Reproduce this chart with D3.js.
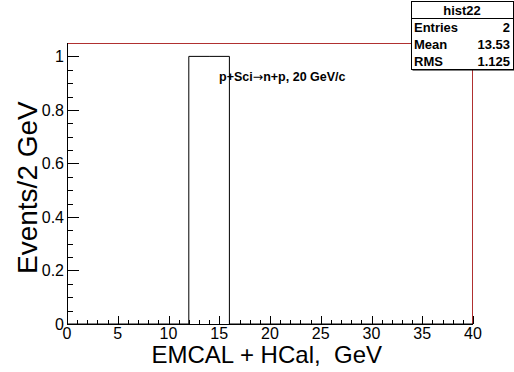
<!DOCTYPE html>
<html><head><meta charset="utf-8">
<script src="https://cdn.jsdelivr.net/npm/d3@7"></script>
<style>body{margin:0;background:#fff}svg{display:block}text{white-space:pre}</style>
</head><body>
<script>
const binEdges = [0,2,4,6,8,10,12,14,16,18,20,22,24,26,28,30,32,34,36,38,40];
const binCounts = [0,0,0,0,0,0,1,1,0,0,0,0,0,0,0,0,0,0,0,0];
const xTicks = [0,5,10,15,20,25,30,35,40];
const yTicks = [0,0.2,0.4,0.6,0.8,1];
const statsLabels = ["Entries","Mean","RMS"];
const statsValues = ["2","13.53","1.125"];
const histName = "hist22";

const W=514,H=372;
const L=67,R=473,T=43,B=324;
const svg=d3.select("body").append("svg").attr("width",W).attr("height",H);
const x=d3.scaleLinear().domain([0,40]).range([L,R]);
const y=d3.scaleLinear().domain([0,1.05]).range([B,T]);
const font="Liberation Sans, Arial, Helvetica, sans-serif";
const red="#b03030";

// frame (dark red)
svg.append("rect").attr("x",L+0.5).attr("y",T+0.5).attr("width",R-L-1).attr("height",B-T)
  .attr("fill","none").attr("stroke",red).attr("stroke-width",1);

// histogram outline
let pts=[];
binCounts.forEach((c,i)=>{pts.push([x(binEdges[i]),y(c)]);pts.push([x(binEdges[i+1]),y(c)]);});
svg.append("path").attr("d",d3.line()(pts)).attr("fill","none").attr("stroke","#000").attr("stroke-width",1);
svg.append("line").attr("x1",x(12)).attr("x2",x(16)).attr("y1",B+0.5).attr("y2",B+0.5).attr("stroke",red);

// x axis
const xa=svg.append("g").attr("transform",`translate(0,${B})`);
xa.append("line").attr("x1",L).attr("x2",R).attr("y1",0.5).attr("y2",0.5).attr("stroke","#000");
xa.selectAll(".mt").data(d3.range(0,41,1)).enter().append("line")
  .attr("x1",d=>Math.round(x(d))+0.5).attr("x2",d=>Math.round(x(d))+0.5)
  .attr("y1",0).attr("y2",d=>d%5===0?-8:-4).attr("stroke","#000");
xa.selectAll("text").data(xTicks).enter().append("text")
  .attr("x",d=>x(d)).attr("y",15).attr("text-anchor","middle")
  .attr("font-family",font).attr("font-size",16).text(d=>d);

// y axis
const ya=svg.append("g").attr("transform",`translate(${L},0)`);
ya.append("line").attr("x1",0.5).attr("x2",0.5).attr("y1",T).attr("y2",B).attr("stroke","#000");
ya.selectAll(".mt").data(d3.range(0,21,1).map(i=>i*0.05)).enter().append("line")
  .attr("y1",d=>Math.round(y(d))+0.5).attr("y2",d=>Math.round(y(d))+0.5)
  .attr("x1",0).attr("x2",(d,i)=>i%4===0?12:6).attr("stroke","#000");
ya.selectAll("text").data(yTicks).enter().append("text")
  .attr("x",-3).attr("y",d=>y(d)+6).attr("text-anchor","end")
  .attr("font-family",font).attr("font-size",16).text(d=>d);

// titles
svg.append("text").attr("x",382).attr("y",363).attr("text-anchor","end")
  .attr("font-family",font).attr("font-size",24).text("EMCAL + HCal,  GeV");
svg.append("text").attr("transform","translate(37,274) rotate(-90)").attr("text-anchor","start")
  .attr("font-family",font).attr("font-size",28).text("Events/2 GeV");

const lab=svg.append("text").attr("x",219).attr("y",81).attr("font-family",font).attr("font-weight","bold")
  .attr("font-size",12.5);
lab.append("tspan").text("p+Sci");
lab.append("tspan").attr("font-family","DejaVu Sans").attr("font-weight","normal").text("\u2192");
lab.append("tspan").text("n+p, 20 GeV/c");

// stats box
const sx=411,sy=1,sw=102,sh=68,rh=sh/4;
svg.append("rect").attr("x",sx+1.5).attr("y",sy+1.5).attr("width",sw).attr("height",sh).attr("fill","#000");
svg.append("rect").attr("x",sx+0.5).attr("y",sy+0.5).attr("width",sw).attr("height",sh).attr("fill","#fff").attr("stroke","#000");
svg.append("line").attr("x1",sx).attr("x2",sx+sw).attr("y1",sy+rh+0.5).attr("y2",sy+rh+0.5).attr("stroke","#000");
svg.append("text").attr("x",sx+sw/2).attr("y",sy+rh/2+5).attr("text-anchor","middle")
  .attr("font-family",font).attr("font-weight","bold").attr("font-size",13).text(histName);
statsLabels.forEach((l,i)=>{
  const yy=sy+rh*(i+1)+rh/2+5;
  svg.append("text").attr("x",sx+3).attr("y",yy).attr("font-family",font).attr("font-weight","bold").attr("font-size",13).text(l);
  svg.append("text").attr("x",sx+sw-3).attr("y",yy).attr("text-anchor","end").attr("font-family",font).attr("font-weight","bold").attr("font-size",13).text(statsValues[i]);
});
</script>
</body></html>
